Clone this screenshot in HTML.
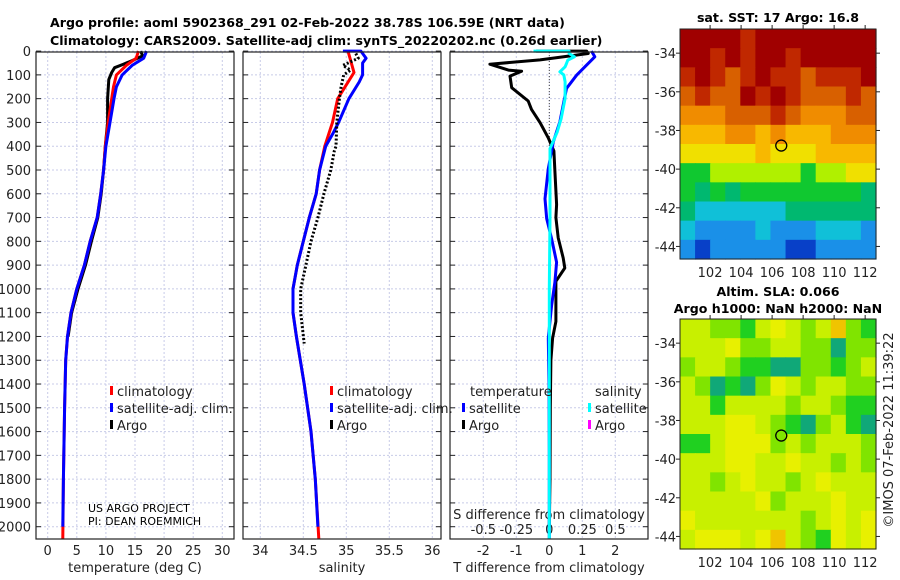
<!DOCTYPE html>
<html><head><meta charset="utf-8">
<style>
html,body{margin:0;padding:0;background:#fff;}
svg{display:block;font-family:"DejaVu Sans","Liberation Sans",sans-serif;}
.tk{font-size:13px;fill:#222;}
.tt{font-size:12.6px;font-weight:bold;fill:#000;}
</style></head>
<body>
<svg id="chart" width="900" height="580" viewBox="0 0 900 580" xmlns="http://www.w3.org/2000/svg">
<text class="tt" x="50" y="27">Argo profile: aoml 5902368_291 02-Feb-2022 38.78S 106.59E (NRT data)</text>
<text class="tt" x="50" y="45">Climatology: CARS2009. Satellite-adj clim: synTS_20220202.nc (0.26d earlier)</text>
<text class="tt" x="778" y="22" text-anchor="middle">sat. SST: 17 Argo: 16.8</text>
<text class="tt" x="778" y="296" text-anchor="middle">Altim. SLA: 0.066</text>
<text class="tt" x="778" y="313" text-anchor="middle">Argo h1000: NaN h2000: NaN</text>
<text class="tk" transform="translate(893,430) rotate(-90)" text-anchor="middle">©IMOS 07-Feb-2022 11:39:22</text>
<text x="88" y="512" style="font-size:11px">US ARGO PROJECT</text>
<text x="88" y="525" style="font-size:11px">PI: DEAN ROEMMICH</text>
<g id="g"></g>
</svg>
<script>
// ---- data ----
const depthTicks=[0,100,200,300,400,500,600,700,800,900,1000,1100,1200,1300,1400,1500,1600,1700,1800,1900,2000];
const tempTicks=[0,5,10,15,20,25,30];
const salTicks=[34,34.5,35,35.5,36];
const tdiffTicks=[-2,-1,0,1,2];
const sdiffTicks=[-0.5,-0.25,0,0.25,0.5];
const sdiffTickLabels=["-0.5","-0.25","0","0.25","0.5"];
const tClimDepth=[0,30,60,100,150,200,300,400,500,600,700,800,900,1000,1100,1200,1300,1500,1800,2050];
const tClim=[15.6,15.2,13.5,11.8,11.3,11.0,10.4,9.9,9.6,9.1,8.5,7.3,6.3,5.0,4.0,3.4,3.1,2.9,2.7,2.6];
const tSatDepth=[0,30,60,100,150,200,300,400,500,600,700,800,900,1000,1100,1200,1300,1500,1800,2000];
const tSat=[17.0,16.5,14.5,12.8,11.8,11.4,10.7,10.0,9.6,9.1,8.5,7.3,6.3,5.0,4.0,3.4,3.1,2.9,2.7,2.6];
const tArgoDepth=[0,20,40,55,70,90,120,200,300,400,500,600,700,800,900,1000,1100,1200];
const tArgo=[16.0,16.3,14.5,13.0,11.5,11.0,10.5,10.3,10.3,9.9,9.6,9.2,8.6,7.5,6.5,5.2,4.1,3.5];
const sClimDepth=[0,90,200,300,400,500,600,700,800,900,1000,1100,1200,1400,1600,1800,2050];
const sClim=[35.02,35.09,34.90,34.84,34.75,34.69,34.65,34.57,34.50,34.43,34.38,34.38,34.42,34.51,34.59,34.64,34.68];
const sSatDepth=[0,0,30,50,100,130,200,300,350,400,500,600,700,800,900,1000,1100,1200,1400,1600,1800,2000];
const sSat=[34.96,35.17,35.23,35.19,35.19,35.15,35.03,34.91,34.84,34.76,34.69,34.65,34.57,34.50,34.43,34.38,34.38,34.42,34.51,34.59,34.64,34.67];
const sArgoDepth=[10,30,60,80,100,150,200,300,400,420,500,600,700,800,900,1000,1100,1230];
const sArgo=[35.11,35.14,34.96,35.05,34.97,34.94,34.92,34.89,34.88,34.86,34.82,34.74,34.67,34.59,34.53,34.47,34.47,34.51];
const dTArgoDepth=[0,0,10,37,55,80,85,105,154,210,245,301,365,420,505,645,700,785,870,912,968,1052,1137,1207,1300,1500,1800,2000];
const dTArgo=[-0.4,1.13,1.18,-0.28,-1.8,-1.24,-0.84,-1.19,-1.14,-0.64,-0.54,-0.28,-0.03,0.14,0.17,0.22,0.2,0.27,0.42,0.47,0.2,0.2,0.2,0.1,0.05,0.03,0.02,0.0];
const dTSatDepth=[0,24,59,101,157,227,297,382,494,621,705,789,888,972,1070,1207,1400,1700,2050];
const dTSat=[1.28,1.38,1.13,0.83,0.52,0.42,0.32,0.12,-0.03,-0.13,-0.08,0.07,0.22,0.17,0.07,-0.03,-0.01,0.0,0.0];
const dSSatDepth=[0,0,10,24,38,52,66,87,100,129,199,283,340,410,700,1000,1500,2050];
const dSSat=[-0.12,0.15,0.15,0.19,0.14,0.13,0.12,0.08,0.11,0.12,0.12,0.09,0.06,0.005,0.005,0.0,0.0,0.0];
const mapLonTicks=[102,104,106,108,110,112];
const mapLatTicks=[-34,-36,-38,-40,-42,-44];
const argoLon=106.59, argoLat=-38.78;
const sstGrid=[
[10,10,10,10,9,10,10,10,10,10,10,10,10],
[10,10,9,10,9,10,10,9,10,10,10,10,10],
[9,10,9,8,9,10,9,9,8,9,9,9,10],
[8,9,8,8,10,9,10,9,8,8,8,9,8],
[7,7,7,8,8,8,9,8,7,7,7,8,8],
[6,6,6,7,7,6,7,6,6,6,7,7,7],
[5,5,5,5,5,6,5,5,5,6,6,6,6],
[3,3,4,4,4,4,4,4,3,4,4,5,5],
[3,2,3,2,3,3,3,3,3,3,3,3,2],
[2,1,1,1,1,1,1,2,2,2,2,2,2],
[1,0,0,0,0,1,0,0,0,1,1,1,0],
[0,-1,0,0,0,0,0,-1,-1,0,0,0,0]];
const slaGrid=[
[3,3,2,2,1,3,4,3,2,3,5,2,1],
[3,3,3,4,2,2,3,3,2,2,0,2,2],
[2,3,3,2,1,1,0,0,2,2,1,2,3],
[3,2,0,1,0,2,4,3,2,3,3,2,2],
[3,3,1,3,3,3,3,2,3,3,2,1,1],
[3,3,3,4,4,3,2,1,0,2,3,1,0],
[1,1,3,4,4,4,2,3,2,3,3,3,2],
[3,3,3,4,4,3,3,4,3,3,2,3,2],
[3,3,2,3,4,3,3,2,3,4,3,3,3],
[3,3,3,3,3,4,2,3,3,3,4,3,3],
[4,3,3,3,3,3,3,3,2,3,4,3,4],
[3,4,4,4,3,4,5,3,2,1,4,3,4]];
// ---- drawing ----
const NS="http://www.w3.org/2000/svg";
const G=document.getElementById('g');
function mk(tag,at,parent){const e=document.createElementNS(NS,tag);for(const k in at)e.setAttribute(k,at[k]);(parent||G).appendChild(e);return e;}
const Y0=51.1, YS=0.2378, PT=52, PB=539;
const yD=d=>Y0+d*YS;
const xT=v=>47.7+v*5.82;
const xS=v=>260.3+(v-34)*86;
const xDT=v=>549.3+v*33;
const xDS=v=>549.3+v*132;
const panels=[[36,234,'temperature-panel'],[243,441,'salinity-panel'],[450,648,'difference-panel']];
function gridV(x){const l=mk('line',{x1:x,x2:x,y1:PT,y2:PB,stroke:'#c8cbe8','stroke-width':1,'stroke-dasharray':'2,2'});}
panels.forEach(([a,b,n],i)=>{
  depthTicks.forEach(d=>{const l=mk('line',{x1:a,x2:b,y1:yD(d),y2:yD(d),stroke:'#c8cbe8','stroke-width':1,'stroke-dasharray':'2,2'});
    mk('line',{x1:a,x2:a+5,y1:yD(d),y2:yD(d),stroke:'#222'});mk('line',{x1:b-5,x2:b,y1:yD(d),y2:yD(d),stroke:'#222'});});
});
tempTicks.forEach(v=>{gridV(xT(v));const t=mk('text',{x:xT(v),y:555,class:'tk','text-anchor':'middle'});t.textContent=v;});
salTicks.forEach(v=>{gridV(xS(v));const t=mk('text',{x:xS(v),y:555,class:'tk','text-anchor':'middle'});t.textContent=v;});
tdiffTicks.forEach(v=>{gridV(xDT(v));const t=mk('text',{x:xDT(v),y:555,class:'tk','text-anchor':'middle'});t.textContent=v;});
sdiffTicks.forEach((v,i)=>{const t=mk('text',{x:xDS(v),y:534,class:'tk','text-anchor':'middle'});t.textContent=sdiffTickLabels[i];});
depthTicks.forEach(d=>{const t=mk('text',{x:31,y:yD(d)+5,class:'tk','text-anchor':'end'});t.textContent=d;});
[['temperature (deg C)',135,'x-axis-title-temperature'],['salinity',342,'x-axis-title-salinity'],['T difference from climatology',549,'x-axis-title-tdiff']].forEach(([s,x,n])=>{const t=mk('text',{x:x,y:572,class:'tk','text-anchor':'middle'});t.textContent=s;});
{const t=mk('text',{x:549,y:519,class:'tk','text-anchor':'middle'});t.textContent='S difference from climatology';}
// zero line
{const l=mk('line',{x1:xDT(0),x2:xDT(0),y1:PT,y2:PB,stroke:'#444','stroke-dasharray':'1,2'});}
function line(ds,vs,xf,col,name,dash){
  const pts=ds.map((d,i)=>xf(vs[i]).toFixed(1)+','+yD(d).toFixed(1)).join(' ');
  const at={points:pts,fill:'none',stroke:col,'stroke-width':3,'stroke-linejoin':'round'};
  if(dash)at['stroke-dasharray']=dash;
  const p=mk('polyline',at);
}
line(tArgoDepth,tArgo,xT,'#000','temp-argo-line');
line(tClimDepth,tClim,xT,'#f00','temp-climatology-line');
line(tSatDepth,tSat,xT,'#00f','temp-satellite-line');
line(sClimDepth,sClim,xS,'#f00','sal-climatology-line');
line(sSatDepth,sSat,xS,'#00f','sal-satellite-line');
line(sArgoDepth,sArgo,xS,'#000','sal-argo-line','2,2');
line(dTArgoDepth,dTArgo,xDT,'#000','tdiff-argo-line');
line(dTSatDepth,dTSat,xDT,'#00f','tdiff-satellite-line');
line(dSSatDepth,dSSat,xDS,'#0ff','sdiff-satellite-line');
// frames
panels.forEach(([a,b,n])=>{const r=mk('rect',{x:a,y:PT,width:b-a,height:PB-PT,fill:'none',stroke:'#222','stroke-width':1.2});});
// legends
function leg(x,y,col,label,name){mk('rect',{x:x,y:y-10,width:3,height:9,fill:col});const t=mk('text',{x:x+7,y:y,class:'tk'});t.textContent=label;}
leg(110,396,'#f00','climatology','legend-climatology');leg(110,413,'#00f','satellite-adj. clim.','legend-satellite-adj');leg(110,430,'#000','Argo','legend-argo');
leg(330,396,'#f00','climatology','legend2-climatology');leg(330,413,'#00f','satellite-adj. clim.','legend2-satellite-adj');leg(330,430,'#000','Argo','legend2-argo');
{const t=mk('text',{x:470,y:396,class:'tk'});t.textContent='temperature';}
{const t=mk('text',{x:595,y:396,class:'tk'});t.textContent='salinity';}
leg(462,413,'#00f','satellite','legend-tdiff-satellite');leg(462,430,'#000','Argo','legend-tdiff-argo');
leg(588,413,'#0ff','satellite','legend-sdiff-satellite');leg(588,430,'#f0f','Argo','legend-sdiff-argo');
// maps
const sstColors={"-1":"#0840c8","0":"#1a90e8","1":"#10c0d8","2":"#00b870","3":"#10c830","4":"#b0f000","5":"#f0e000","6":"#f8b800","7":"#f08c00","8":"#d86000","9":"#c02800","10":"#a00000"};
const slaColors={"0":"#10a878","1":"#20d020","2":"#80e400","3":"#c8f000","4":"#e8f000","5":"#f0c400"};
function drawMap(x0,y0,grid,colors,name){
  const W=196,H=230,L0=100.06,L1=112.7,A0=-32.75,A1=-44.65;
  const lx=v=>x0+(v-L0)/(L1-L0)*W, ly=v=>y0+(v-A0)/(A1-A0)*H;
  const nr=grid.length,nc=grid[0].length,cw=W/nc,ch=H/nr;
  grid.forEach((row,r)=>row.forEach((v,c)=>{const e=mk('rect',{x:x0+c*cw,y:y0+r*ch,width:cw+0.6,height:ch+0.6,fill:colors[v]});}));
  const f=mk('rect',{x:x0,y:y0,width:W,height:H,fill:'none',stroke:'#222'});
  mapLatTicks.forEach(v=>{mk('line',{x1:x0-4,x2:x0,y1:ly(v),y2:ly(v),stroke:'#222'});mk('line',{x1:x0+W,x2:x0+W+4,y1:ly(v),y2:ly(v),stroke:'#222'});
    const t=mk('text',{x:x0-4,y:ly(v)+5,class:'tk','text-anchor':'end'});t.textContent=v;});
  mapLonTicks.forEach(v=>{mk('line',{x1:lx(v),x2:lx(v),y1:y0-4,y2:y0,stroke:'#222'});
    const t=mk('text',{x:lx(v),y:y0+H+18,class:'tk','text-anchor':'middle'});t.textContent=v;});
  const c=mk('circle',{cx:lx(argoLon),cy:ly(argoLat),r:5.5,fill:'none',stroke:'#000','stroke-width':1.3});
}
drawMap(680,29,sstGrid,sstColors,'sst-map');
drawMap(680,319,slaGrid,slaColors,'sla-map');
</script>
</body></html>
